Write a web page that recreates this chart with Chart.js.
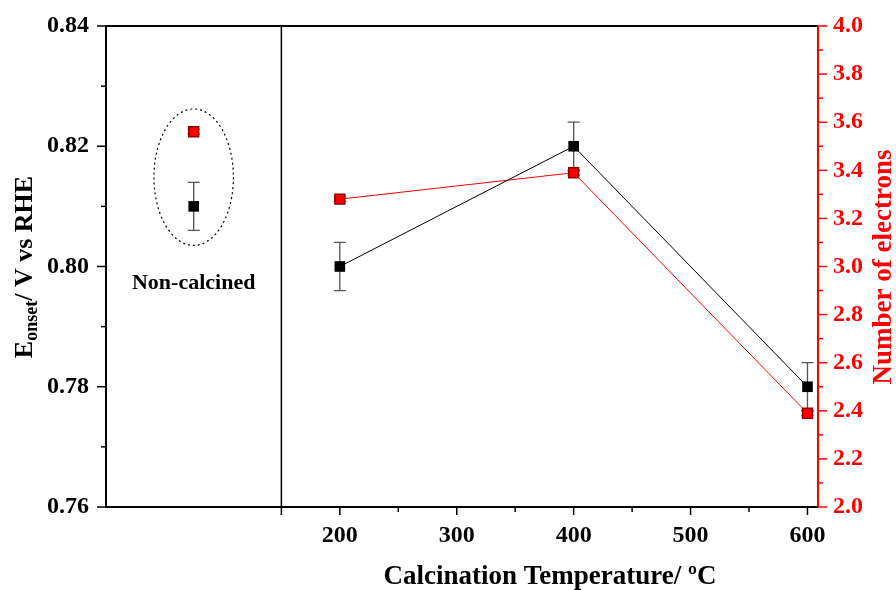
<!DOCTYPE html>
<html>
<head>
<meta charset="utf-8">
<script src="https://cdn.jsdelivr.net/npm/chart.js@4.4.0/dist/chart.umd.min.js"></script>
<style>
  body { margin: 0; background: #fff; }
  #wrap { width: 896px; height: 590px; }
</style>
</head>
<body>
<div id="wrap"><canvas id="chart"></canvas></div>
<script>
// data
const temps = [200, 400, 600]
const onset = [0.80, 0.82, 0.78]
const onsetErr = [0.004, 0.004, 0.004]
const electrons = [3.28, 3.39, 2.39]
const electronsErr = [0.01, 0.01, 0.01]

const rawTemp = 75          // non-calcined sample, placed left of the divider
const rawOnset = 0.81
const rawOnsetErr = 0.004
const rawElectrons = 3.56
const rawElectronsErr = 0.01
const dividerAt = 150

const xTicks = [200, 300, 400, 500, 600]
const leftTicks = [0.76, 0.78, 0.80, 0.82, 0.84]
const rightTicks = [2.0, 2.2, 2.4, 2.6, 2.8, 3.0, 3.2, 3.4, 3.6, 3.8, 4.0]

const FONT = '"Liberation Serif", "Times New Roman", serif'
const RED = '#ff0000'

const pts = (xs, ys) => xs.map((x, i) => ({ x: x, y: ys[i] }))

// error bars, axes ticks, divider, ellipse and titles
const extras = {
    id: 'extras',
    beforeDatasetsDraw(chart) {
        const ctx = chart.ctx
        const x = chart.scales.x, yL = chart.scales.y, yR = chart.scales.y2

        const bars = (xs, ys, es, sc, color) => {
            ctx.save()
            ctx.strokeStyle = color
            ctx.lineWidth = 1.3
            xs.forEach((v, i) => {
                const px = x.getPixelForValue(v)
                const top = sc.getPixelForValue(ys[i] + es[i])
                const bot = sc.getPixelForValue(ys[i] - es[i])
                ctx.beginPath()
                ctx.moveTo(px, top); ctx.lineTo(px, bot)
                ctx.moveTo(px - 6, top); ctx.lineTo(px + 6, top)
                ctx.moveTo(px - 6, bot); ctx.lineTo(px + 6, bot)
                ctx.stroke()
            })
            ctx.restore()
        }
        bars(temps.concat([rawTemp]), onset.concat([rawOnset]), onsetErr.concat([rawOnsetErr]), yL, '#555')
        bars(temps.concat([rawTemp]), electrons.concat([rawElectrons]), electronsErr.concat([rawElectronsErr]), yR, '#800000')
    },
    afterDraw(chart) {
        const ctx = chart.ctx
        const x = chart.scales.x, yL = chart.scales.y, yR = chart.scales.y2
        const area = chart.chartArea

        ctx.save()
        // frame
        ctx.strokeStyle = '#000'
        ctx.lineWidth = 2
        ctx.beginPath()
        ctx.moveTo(area.right, area.top); ctx.lineTo(area.left, area.top)
        ctx.lineTo(area.left, area.bottom); ctx.lineTo(area.right, area.bottom)
        ctx.stroke()
        ctx.strokeStyle = RED
        ctx.beginPath()
        ctx.moveTo(area.right, area.top); ctx.lineTo(area.right, area.bottom)
        ctx.stroke()

        // divider
        const dx = x.getPixelForValue(dividerAt)
        ctx.strokeStyle = '#000'
        ctx.lineWidth = 1.5
        ctx.beginPath()
        ctx.moveTo(dx, area.top); ctx.lineTo(dx, area.bottom + 8)
        ctx.stroke()

        // ticks
        ctx.lineWidth = 1.5
        for (let v = 200; v <= 600; v += 50) {
            const px = x.getPixelForValue(v)
            const len = v % 100 === 0 ? 8 : 5
            ctx.beginPath(); ctx.moveTo(px, area.bottom); ctx.lineTo(px, area.bottom + len); ctx.stroke()
        }
        for (let v = 0.76; v <= 0.8401; v += 0.01) {
            const py = yL.getPixelForValue(v)
            const len = Math.round(v * 100) % 2 === 0 ? 9 : 5
            ctx.beginPath(); ctx.moveTo(area.left, py); ctx.lineTo(area.left - len, py); ctx.stroke()
        }
        ctx.strokeStyle = RED
        for (let v = 2.0; v <= 4.001; v += 0.1) {
            const py = yR.getPixelForValue(v)
            const len = Math.round(v * 10) % 2 === 0 ? 9 : 5
            ctx.beginPath(); ctx.moveTo(area.right, py); ctx.lineTo(area.right + len, py); ctx.stroke()
        }

        // dotted ellipse round the non-calcined points
        const cx = x.getPixelForValue(rawTemp)
        const cy = yL.getPixelForValue(0.81485)
        const rx = x.getPixelForValue(rawTemp + 34) - cx
        const ry = yL.getPixelForValue(0.81485) - yL.getPixelForValue(0.8262)
        ctx.strokeStyle = '#000'
        ctx.lineWidth = 1.2
        ctx.setLineDash([2, 3])
        ctx.beginPath()
        ctx.ellipse(cx, cy, rx, ry, 0, 0, Math.PI * 2)
        ctx.stroke()
        ctx.setLineDash([])

        // label
        ctx.fillStyle = '#000'
        ctx.font = 'bold 22px ' + FONT
        ctx.textAlign = 'center'
        ctx.textBaseline = 'middle'
        ctx.fillText('Non-calcined', cx, yL.getPixelForValue(0.7972))

        // x title
        ctx.font = 'bold 27px ' + FONT
        ctx.fillText('Calcination Temperature/ \u00baC', 550, 577)

        // left title with subscript
        ctx.save()
        ctx.translate(25, 267)
        ctx.rotate(-Math.PI / 2)
        ctx.textAlign = 'left'
        ctx.textBaseline = 'middle'
        const big = 'bold 26px ' + FONT, small = 'bold 18px ' + FONT
        ctx.font = big; const wE = ctx.measureText('E').width
        ctx.font = small; const wS = ctx.measureText('onset').width
        ctx.font = big; const wR = ctx.measureText('/ V vs RHE').width
        let sx = -(wE + wS + wR) / 2
        ctx.font = big; ctx.fillText('E', sx, 0); sx += wE
        ctx.font = small; ctx.fillText('onset', sx, 7); sx += wS
        ctx.font = big; ctx.fillText('/ V vs RHE', sx, 0)
        ctx.restore()

        // right title
        ctx.save()
        ctx.translate(884, 267)
        ctx.rotate(-Math.PI / 2)
        ctx.fillStyle = RED
        ctx.font = 'bold 27px ' + FONT
        ctx.textAlign = 'center'
        ctx.textBaseline = 'middle'
        ctx.fillText('Number of electrons', 0, 0)
        ctx.restore()

        ctx.restore()
    }
}

new Chart(document.getElementById('chart'), {
    type: 'line',
    data: {
        datasets: [
            {
                label: 'Eonset',
                data: pts(temps, onset),
                yAxisID: 'y',
                borderColor: '#000',
                borderWidth: 1,
                backgroundColor: '#000',
                pointStyle: 'rect',
                pointRadius: 7.5,
                pointBorderWidth: 0,
                tension: 0,
            },
            {
                label: 'Eonset non-calcined',
                data: [{ x: rawTemp, y: rawOnset }],
                yAxisID: 'y',
                showLine: false,
                backgroundColor: '#000',
                borderColor: '#000',
                pointStyle: 'rect',
                pointRadius: 7.5,
                pointBorderWidth: 0,
            },
            {
                label: 'Number of electrons',
                data: pts(temps, electrons),
                yAxisID: 'y2',
                borderColor: RED,
                borderWidth: 1,
                backgroundColor: RED,
                pointStyle: 'rect',
                pointRadius: 7,
                pointBorderColor: '#900000',
                pointBorderWidth: 1.5,
                tension: 0,
            },
            {
                label: 'electrons non-calcined',
                data: [{ x: rawTemp, y: rawElectrons }],
                yAxisID: 'y2',
                showLine: false,
                backgroundColor: RED,
                borderColor: '#900000',
                pointStyle: 'rect',
                pointRadius: 7,
                pointBorderWidth: 1.5,
            },
        ],
    },
    options: {
        responsive: true,
        maintainAspectRatio: false,
        animation: false,
        layout: { padding: { top: 26, left: 0, right: 0, bottom: 0 } },
        plugins: { legend: { display: false }, tooltip: { enabled: false } },
        scales: {
            x: {
                type: 'linear',
                min: 0,
                max: 609,
                afterBuildTicks: (s) => { s.ticks = xTicks.map(v => ({ value: v })) },
                afterFit: (s) => { s.height = 83 },
                grid: { display: false },
                border: { display: false },
                ticks: { color: '#000', font: { family: FONT, size: 24, weight: 'bold' }, padding: 6, maxRotation: 0 },
            },
            y: {
                position: 'left',
                min: 0.76,
                max: 0.84,
                afterBuildTicks: (s) => { s.ticks = leftTicks.map(v => ({ value: v })) },
                afterFit: (s) => { s.width = 106 },
                grid: { display: false },
                border: { display: false },
                ticks: { color: '#000', font: { family: FONT, size: 24, weight: 'bold' }, padding: 9, callback: (v) => v.toFixed(2) },
            },
            y2: {
                position: 'right',
                min: 2.0,
                max: 4.0,
                afterBuildTicks: (s) => { s.ticks = rightTicks.map(v => ({ value: v })) },
                afterFit: (s) => { s.width = 78 },
                grid: { display: false },
                border: { display: false },
                ticks: { color: RED, font: { family: FONT, size: 24, weight: 'bold' }, padding: 7, callback: (v) => v.toFixed(1) },
            },
        },
    },
    plugins: [extras],
})
</script>
</body>
</html>
